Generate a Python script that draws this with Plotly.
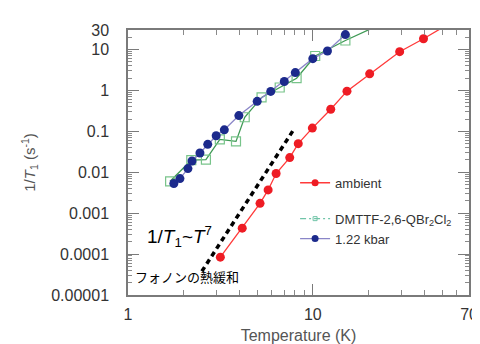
import plotly.graph_objects as go

# ---- data ----
ambient_T = [3.16, 4.15, 5.18, 5.73, 6.33, 7.5, 8.34, 9.94, 12.5, 15.3, 20.3, 29.5, 39.7, 60]
ambient_R = [8.4e-5, 4.3e-4, 1.74e-3, 3.7e-3, 9.3e-3, 0.0228, 0.050, 0.120, 0.346, 0.96, 2.54, 8.85, 18.3, 55]

salt_T = [1.69, 2.2, 2.64, 3.14, 3.84, 4.28, 5.28, 6.62, 8.17, 10.3, 15.0, 25]
salt_R = [0.0060, 0.0197, 0.0203, 0.0636, 0.0569, 0.221, 0.676, 1.18, 1.99, 6.95, 16.6, 48]

kbar_T = [1.77, 1.91, 2.11, 2.22, 2.45, 2.70, 3.00, 3.32, 3.98, 5.0, 5.92, 7.01, 8.04, 10.0, 12.0, 15.0]
kbar_R = [0.0053, 0.0070, 0.0123, 0.0189, 0.0296, 0.0481, 0.0778, 0.109, 0.243, 0.541, 0.946, 1.65, 2.73, 5.98, 9.2, 23.2]

phonon_T = [2.51, 7.78]
phonon_R = [3.8e-5, 0.101]

x_tickvals = [1, 10, 70]
x_ticktext = ["1", "10", "70"]
x_minor = [2, 3, 4, 5, 6, 7, 8, 9, 20, 30, 40, 50, 60]
y_tickvals = [1e-5, 1e-4, 1e-3, 1e-2, 0.1, 1, 10, 30]
y_ticktext = ["0.00001", "0.0001", "0.001", "0.01", "0.1", "1", "10", "30"]
y_minor = [m * 10 ** e for e in range(-5, 2) for m in range(2, 10)]

fig = go.Figure()

fig.add_trace(go.Scatter(
    x=phonon_T, y=phonon_R, mode="lines",
    line=dict(color="black", width=3.5, dash="5px,4px"),
    showlegend=False, hoverinfo="skip"))

fig.add_trace(go.Scatter(
    x=salt_T, y=salt_R, mode="lines+markers",
    line=dict(color="#3f9a55", width=1.3),
    marker=dict(symbol="square-open", size=9, color="#78c48a", line=dict(width=1.2)),
    showlegend=False))

fig.add_trace(go.Scatter(
    x=kbar_T, y=kbar_R, mode="lines+markers",
    line=dict(color="#8a86c8", width=1.3),
    marker=dict(symbol="circle", size=9, color="#1c2a8c"),
    showlegend=False))

fig.add_trace(go.Scatter(
    x=ambient_T, y=ambient_R, mode="lines+markers",
    line=dict(color="#ff3a3a", width=1.3),
    marker=dict(symbol="circle", size=9, color="#ee1c24"),
    showlegend=False))

# legend entries
fig.add_trace(go.Scatter(
    x=[None], y=[None], mode="lines+markers", name="ambient",
    line=dict(color="#ff3a3a", width=1.3),
    marker=dict(symbol="circle", size=7, color="#ee1c24"), legendgroup="a"))
fig.add_trace(go.Scatter(
    x=[None], y=[None], mode="lines+markers", name="DMTTF-2,6-QBr<sub>2</sub>Cl<sub>2</sub>",
    line=dict(color="#70c4a8", width=1.3, dash="6px,3px,2px,3px"),
    marker=dict(symbol="square-open", size=4, color="#70c4a8"), legendgroup="b"))
fig.add_trace(go.Scatter(
    x=[None], y=[None], mode="lines+markers", name="1.22 kbar",
    line=dict(color="#8a86c8", width=1.3),
    marker=dict(symbol="circle", size=7, color="#1c2a8c"), legendgroup="b"))

axis_common = dict(
    type="log", showline=True, linecolor="#7a7a7a", linewidth=1.5, mirror="ticks",
    ticks="inside", ticklen=11, tickcolor="#7a7a7a", tickwidth=1.2,
    showgrid=False, zeroline=False,
    tickfont=dict(family="Liberation Sans, Arial, sans-serif", size=16, color="#333333"),
)

fig.update_xaxes(
    **axis_common, range=[0, 1.845], tickmode="array",
    tickvals=x_tickvals, ticktext=x_ticktext, ticklabelstandoff=4,
    minor=dict(ticks="inside", ticklen=5, tickcolor="#8a8a8a", tickvals=x_minor),
    title=dict(text="Temperature (K)", standoff=8,
               font=dict(family="Liberation Sans, Arial, sans-serif", size=16, color="#555555")))

fig.update_yaxes(
    **axis_common, range=[-5, 1.477], tickmode="array",
    tickvals=y_tickvals, ticktext=y_ticktext, ticklabelstandoff=14,
    minor=dict(ticks="inside", ticklen=4, tickcolor="#8a8a8a", tickvals=y_minor),
    title=dict(text="1/<i>T</i><sub>1</sub> (s<sup>-1</sup>)", standoff=12,
               font=dict(family="Liberation Sans, Arial, sans-serif", size=15, color="#555555")))

fig.add_annotation(
    x=0.15, y=0.22, xref="paper", yref="paper", showarrow=False,
    xanchor="center", yanchor="middle",
    text="1/<i>T</i><sub>1</sub>~<i>T</i><sup>7</sup>",
    font=dict(family="Liberation Sans, Arial, sans-serif", size=19, color="black"))
fig.add_annotation(
    x=0.174, y=0.07, xref="paper", yref="paper", showarrow=False,
    xanchor="center", yanchor="middle",
    text="フォノンの熱緩和",
    font=dict(family="Noto Sans CJK JP", size=13, color="black"))

fig.update_layout(
    width=480, height=344,
    margin=dict(l=120, r=10, t=22, b=55),
    paper_bgcolor="white", plot_bgcolor="white",
    legend=dict(x=0.49, y=0.48, xanchor="left", yanchor="top",
                bgcolor="rgba(0,0,0,0)", tracegroupgap=16,
                font=dict(family="Liberation Sans, Arial, sans-serif", size=13, color="#333333")),
)

fig.write_html("out.html")
